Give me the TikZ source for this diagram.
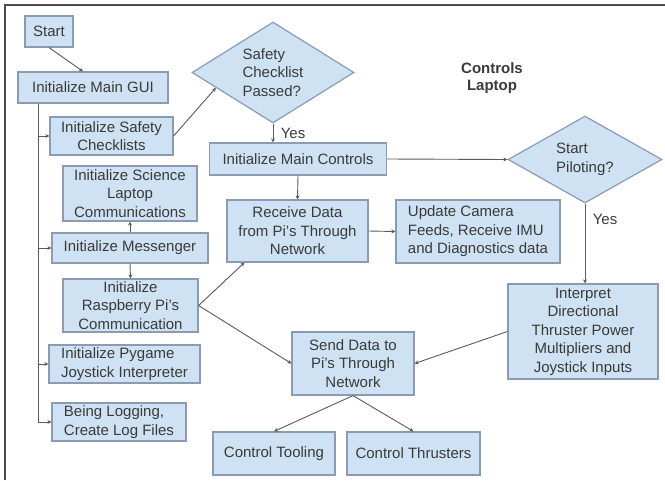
\documentclass[tikz,border=0pt]{standalone}
\usepackage{fontspec}
\setmainfont{Liberation Sans}
\usetikzlibrary{arrows.meta,shapes.geometric,calc}
\definecolor{ctlfill}{HTML}{CFE2F3}
\definecolor{ctledge}{HTML}{8A9BB3}
\definecolor{ctlline}{HTML}{5A5A5A}
\definecolor{ctltext}{HTML}{3A3A3A}

\begin{document}
\begin{tikzpicture}[x=1pt,y=-1pt,font=\fontsize{15}{18.5}\selectfont,
  box/.style={draw=ctledge,fill=ctlfill,line width=1.2pt,text=ctltext,inner sep=2pt,align=center},
  decision/.style={diamond,draw=ctledge,fill=ctlfill,line width=1.2pt,text=ctltext,inner sep=0pt,aspect=1.6,align=left},
  flow/.style={draw=ctlline,line width=0.9pt,-{Stealth[length=4pt,width=4pt]}}]
\useasboundingbox (0,0) rectangle (665,480);
\draw[black!70,line width=2.5pt] (5,480) -- (5,5) -- (665,5);
% left column
\node[box,minimum width=48,minimum height=31] (start) at (49,31.5) {Start};
\node[box,minimum width=150,minimum height=31] (gui) at (93,87.5) {Initialize Main GUI};
\node[box,minimum width=123,minimum height=38] (safety) at (111.5,136) {Initialize Safety\\Checklists};
\node[box,minimum width=134,minimum height=55] (science) at (130,193.5) {Initialize Science\\Laptop\\Communications};
\node[box,minimum width=156,minimum height=30] (messenger) at (130,248) {Initialize Messenger};
\node[box,minimum width=135,minimum height=53] (rpi) at (130.5,305.5) {Initialize\\Raspberry Pi's\\Communication};
\node[box,align=left,minimum width=151,minimum height=38] (pygame) at (124.5,364) {Initialize Pygame\\Joystick Interpreter};
\node[box,align=left,minimum width=134,minimum height=38] (logging) at (119,422) {Being Logging,\\Create Log Files};
% middle and right
\node[decision,minimum width=162,minimum height=101] (safetyq) at (273,72.5) {Safety\\Checklist\\Passed?};
\node[font=\fontsize{15}{17}\selectfont\bfseries,align=center,text=ctltext] (title) at (492,78.5) {Controls\\Laptop};
\node[box,minimum width=177,minimum height=32] (maincontrols) at (298,159) {Initialize Main Controls};
\node[box,minimum width=141,minimum height=62] (receive) at (297.5,231) {Receive Data\\from Pi's Through\\Network};
\node[box,align=left,minimum width=164,minimum height=63] (camera) at (478,231.5) {Update Camera\\Feeds, Receive IMU\\and Diagnostics data};
\node[decision,minimum width=154,minimum height=87] (pilotq) at (585,159.5) {Start\\Piloting?};
\node[box,minimum width=150,minimum height=95] (interpret) at (583,331.5) {Interpret\\Directional\\Thruster Power\\Multipliers and\\Joystick Inputs};
\node[box,minimum width=122,minimum height=63] (send) at (353,363.5) {Send Data to\\Pi's Through\\Network};
\node[box,minimum width=122,minimum height=43] (tooling) at (274,453.5) {Control Tooling};
\node[box,minimum width=133,minimum height=43] (thrusters) at (413.5,453.5) {Control Thrusters};
% connectors
\draw[flow] (start.south) -- ([xshift=-10pt]gui.north);
\coordinate (trunk) at ([xshift=21pt]gui.south west);
\draw[flow] (trunk) |- (safety.west);
\draw[flow] (trunk) |- (messenger.west);
\draw[flow] (trunk) |- (pygame.west);
\draw[flow] (trunk) |- (logging.west);
\draw[flow] (messenger.north) -- (science.south);
\draw[flow] (messenger.south) -- (rpi.north);
\draw[flow] (safety.east) -- ($(safetyq.west)!0.3!(safetyq.south)$);
\draw[flow] (safetyq.south) -- (safetyq.south |- maincontrols.north) node[midway,right=4pt,text=ctltext] (yesone) {Yes};
\draw[flow] (maincontrols.south) -- (receive.north);
\draw[flow] (maincontrols.east) -- (pilotq.west);
\draw[flow] (receive.east) -- (camera.west);
\draw[flow] (pilotq.south) -- (pilotq.south |- interpret.north) node[pos=0.2,right=4pt,text=ctltext] (yestwo) {Yes};
\draw[flow] (rpi.east) -- ([xshift=18pt]receive.south west);
\draw[flow] (rpi.east) -- (send.west);
\draw[flow] (interpret.west) -- (send.east);
\draw[flow] (send.south) -- (tooling.north);
\draw[flow] (send.south) -- (thrusters.north);
\end{tikzpicture}
\end{document}
